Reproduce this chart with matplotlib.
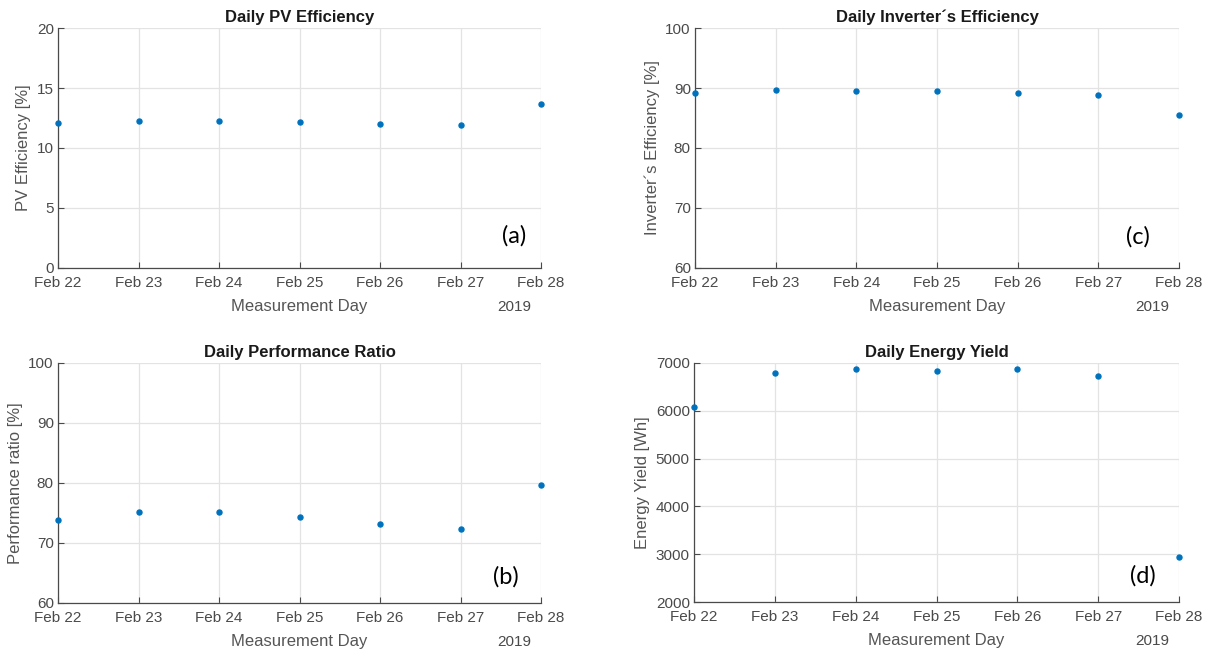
import matplotlib
matplotlib.use("Agg")
import matplotlib.pyplot as plt
import matplotlib.dates as mdates
import datetime as dt

plt.rcParams['font.family'] = ['Liberation Sans', 'DejaVu Sans']

days = [dt.datetime(2019, 2, d) for d in range(22, 29)]
pv_eff = [12.1, 12.25, 12.28, 12.14, 12.0, 11.92, 13.64]
perf_ratio = [73.8, 75.1, 75.1, 74.3, 73.1, 72.4, 79.7]
inv_eff = [89.2, 89.6, 89.45, 89.45, 89.1, 88.8, 85.5]
energy = [6077, 6783, 6874, 6825, 6867, 6734, 2937]

titles = ["Daily PV Efficiency", "Daily Performance Ratio",
          "Daily Inverter\u00b4s Efficiency", "Daily Energy Yield"]
ylabels = ["PV Efficiency [%]", "Performance ratio [%]",
           "Inverter\u00b4s Efficiency [%]", "Energy Yield [Wh]"]
ylims = [(0, 20), (60, 100), (60, 100), (2000, 7000)]
yticks = [[0, 5, 10, 15, 20], [60, 70, 80, 90, 100], [60, 70, 80, 90, 100],
          [2000, 3000, 4000, 5000, 6000, 7000]]
letters = ["(a)", "(b)", "(c)", "(d)"]
letter_pos = [(0.945, 0.133), (0.927, 0.108), (0.915, 0.129), (0.925, 0.11)]
series = [pv_eff, perf_ratio, inv_eff, energy]

W, H = 1210, 651
boxes = [(58, 28, 541, 268), (58, 363, 541, 603),
         (695, 28, 1179, 268), (694, 363, 1179, 602)]

fig = plt.figure(figsize=(12.1, 6.51), dpi=100)
fig.patch.set_facecolor('white')

for i in range(4):
    l, t, r, b = boxes[i]
    ax = fig.add_axes([l / W, 1 - b / H, (r - l) / W, (b - t) / H])
    ax.plot(days, series[i], linestyle='none', marker='o', markersize=3.6,
            color='#0072BD', clip_on=False, zorder=3)
    ax.set_xlim(days[0], days[-1])
    ax.set_ylim(*ylims[i])
    ax.set_yticks(yticks[i])
    ax.xaxis.set_major_locator(mdates.DayLocator())
    ax.xaxis.set_major_formatter(mdates.DateFormatter('%b %d'))
    ax.grid(True, color='#e3e3e3', linewidth=0.9)
    ax.set_axisbelow(True)
    for s in ['top', 'right']:
        ax.spines[s].set_visible(False)
    for s in ['left', 'bottom']:
        ax.spines[s].set_color('#4a4a4a')
        ax.spines[s].set_linewidth(0.9)
    ax.tick_params(direction='in', length=4, width=0.8, colors='#4a4a4a',
                   labelsize=11, labelcolor='#4a4a4a')
    ax.tick_params(axis='x', pad=6)
    ax.tick_params(axis='y', pad=3)
    ax.set_title(titles[i], fontsize=12, fontweight='bold', color='#1a1a1a', pad=4)
    ax.set_xlabel("Measurement Day", fontsize=12, color='#555555', labelpad=6)
    ax.set_ylabel(ylabels[i], fontsize=12, color='#555555', labelpad=4)
    ax.text(0.945, -0.163, "2019", transform=ax.transAxes, fontsize=11,
            color='#4a4a4a', ha='center', va='center')
    ax.text(letter_pos[i][0], letter_pos[i][1], letters[i], transform=ax.transAxes,
            fontsize=17, family=['Lato', 'DejaVu Sans'], color='black',
            ha='center', va='center')

fig.savefig("out.png", dpi=100, facecolor='white')
